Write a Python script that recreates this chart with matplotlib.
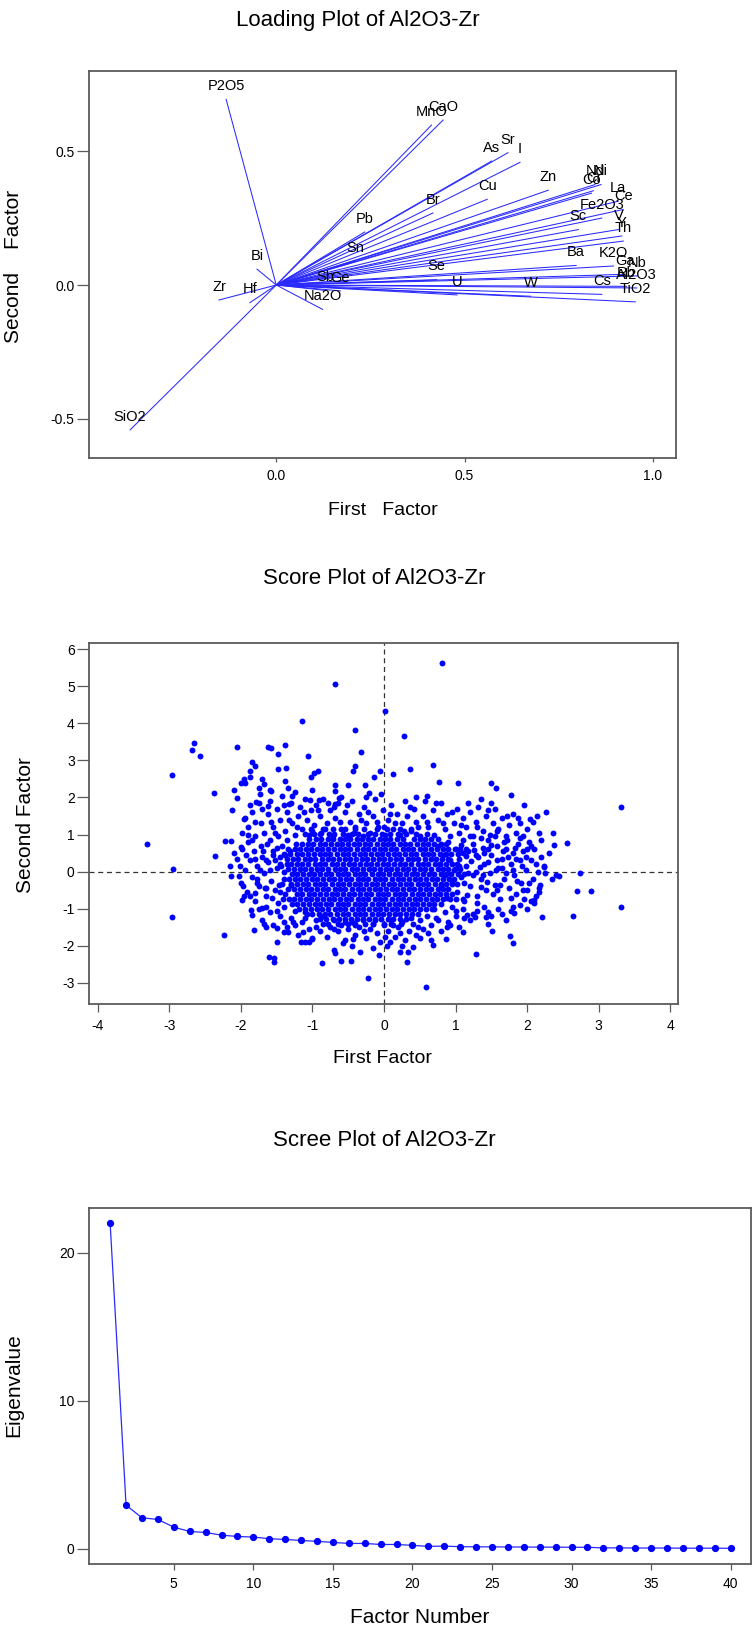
import numpy as np
import matplotlib
matplotlib.use("Agg")
import matplotlib.pyplot as plt

plt.rcParams['font.family'] = ['Liberation Sans', 'DejaVu Sans']
plt.rcParams['axes.unicode_minus'] = False

BLUE = '#0000ff'
FRAME = '#5a5a5a'

# ---------------- loading plot data (first / second factor loadings) -------
load_names = ['P2O5', 'MnO', 'CaO', 'As', 'Sr', 'I', 'Br', 'Cu', 'Zn', 'Pb',
              'Sn', 'Bi', 'Zr', 'Hf', 'SiO2', 'Na2O', 'Sb', 'Ge', 'Se', 'U',
              'W', 'Ba', 'K2O', 'Ga', 'Nb', 'Cs', 'Rb', 'Al2O3', 'TiO2', 'Nd',
              'Ni', 'Co', 'Cr', 'La', 'Ce', 'Fe2O3', 'Sc', 'V', 'Y', 'Th']
load_f1 = [-0.133, 0.412, 0.443, 0.572, 0.615, 0.647, 0.416, 0.560, 0.722, 0.235,
           0.211, -0.051, -0.152, -0.070, -0.388, 0.123, 0.130, 0.170, 0.426, 0.480,
           0.675, 0.796, 0.895, 0.926, 0.957, 0.864, 0.930, 0.957, 0.953, 0.846,
           0.862, 0.837, 0.842, 0.908, 0.921, 0.864, 0.802, 0.908, 0.917, 0.921]
load_f2 = [0.693, 0.597, 0.616, 0.463, 0.494, 0.458, 0.269, 0.320, 0.354, 0.198,
           0.090, 0.059, -0.056, -0.066, -0.541, -0.091, -0.020, -0.022, 0.020, -0.037,
           -0.042, 0.073, 0.071, 0.040, 0.034, -0.035, -0.005, -0.011, -0.063, 0.375,
           0.375, 0.343, 0.352, 0.313, 0.282, 0.250, 0.207, 0.207, 0.183, 0.164]

# ---------------- score plot data ------------------------------------------
score_outliers = [
    (-0.69, 5.07), (0.02, 4.33), (-1.14, 4.06), (-0.41, 3.81), (-2.65, 3.47),
    (-2.69, 3.29), (-2.57, 3.12), (-2.05, 3.37), (-1.62, 3.36), (-1.58, 3.33),
    (-1.38, 3.41), (-1.48, 3.17), (-1.06, 3.12), (-0.32, 3.22), (-2.97, 2.61),
    (-1.85, 2.95), (-1.81, 2.86), (-1.87, 2.70), (-1.48, 2.76), (-1.37, 2.80),
    (-1.02, 2.56), (-0.98, 2.65), (-0.92, 2.72), (-0.44, 2.70), (-0.40, 2.85),
    (-0.05, 2.72), (-0.14, 2.55), (-2.38, 2.11), (-2.10, 2.20), (-2.05, 1.99),
    (-2.00, 2.38), (-1.96, 2.50), (-1.88, 2.54), (-1.71, 2.51), (-1.68, 2.35),
    (-1.58, 2.16), (-1.73, 2.08), (-1.38, 2.43), (-1.34, 2.25), (-1.28, 2.04),
    (-1.00, 2.20), (-1.04, 1.93), (-0.68, 2.34), (-0.69, 2.16), (-0.63, 1.99),
    (-0.50, 2.33), (-0.27, 2.33), (-0.21, 2.11), (-0.04, 2.08), (-2.13, 1.66),
    (-1.96, 1.42), (-1.88, 1.79), (-1.79, 1.89), (-1.62, 1.77), (-1.33, 1.81),
    (-0.91, 1.93), (-0.79, 1.86), (-0.68, 1.82), (-3.32, 0.75), (-2.22, 0.83),
    (-2.14, 0.83), (-2.36, 0.43), (-1.98, 1.03), (-2.00, 0.66), (-2.16, 0.15),
    (-2.14, -0.13), (-2.03, -0.13), (-2.95, 0.08), (-2.96, -1.22), (-2.23, -1.71),
    (-1.82, -1.56), (-1.96, -0.67), (-1.98, -0.76), (-1.86, -1.03), (-1.84, -1.17),
    (-1.68, -1.41), (-1.65, -1.50), (-1.49, -1.91), (-1.61, -2.29), (-1.54, -2.43),
    (-1.54, -2.34), (-0.87, -2.47), (-0.69, -2.20), (-0.60, -2.40), (-0.46, -2.40),
    (-0.22, -2.86), (-0.33, -2.16), (-0.07, -2.25), (-0.57, -1.93), (-0.44, -1.82),
    (-1.16, -1.90), (-1.10, -1.90), (-1.00, -1.82), (-1.13, -1.62), (-1.40, -1.64),
    (-1.34, -1.62), (-1.27, -1.37), (-1.49, -1.53), (-1.70, -0.99), (-1.80, -0.58),
    (-1.77, -0.31), (-1.65, -0.45),
    (0.81, 5.63), (0.28, 3.66), (0.68, 2.88), (0.37, 2.76), (0.13, 2.62),
    (0.77, 2.41), (1.03, 2.38), (1.50, 2.38), (1.57, 2.26), (1.78, 2.07),
    (1.96, 1.79), (2.26, 1.62), (3.32, 1.73), (2.14, 1.50), (2.04, 1.42),
    (2.16, 1.03), (2.36, 1.05), (2.37, 0.72), (2.56, 0.78), (2.30, 0.49),
    (2.23, 0.13), (2.41, -0.09), (2.44, -0.13), (2.74, -0.03), (2.35, -0.21),
    (2.70, -0.52), (2.89, -0.52), (3.32, -0.94), (2.64, -1.19), (2.21, -1.21),
    (1.82, -1.12), (1.76, -1.73), (1.81, -1.93), (1.46, -1.41), (1.51, -1.59),
    (1.42, -1.21), (1.29, -2.23), (1.11, -1.64), (0.87, -1.81), (0.68, -1.98),
    (0.59, -3.12), (0.32, -2.44), (0.23, -2.17), (0.34, -2.16), (0.41, -2.02),
    (0.04, -2.00), (0.08, -1.91), (1.16, -1.17), (1.27, -1.21), (0.92, -1.44),
    (2.10, -0.76), (2.13, -0.67), (2.17, -0.45),
]

score_ring = [
    (-1.95, 1.45), (-1.9, 1.2), (-1.85, 1.6), (-1.8, 0.95), (-1.75, 1.85), (-1.72, 1.3),
    (-1.68, 1.05), (-1.62, 1.55), (-1.6, 1.9), (-1.55, 1.2), (-1.5, 1.7), (-1.48, 0.95),
    (-1.45, 1.4), (-1.42, 2.05), (-1.38, 1.1), (-1.35, 1.6), (-1.3, 1.85), (-1.28, 1.3),
    (-1.25, 0.98), (-1.2, 1.5), (-1.18, 1.75), (-1.15, 1.15), (-1.1, 1.95), (-1.08, 1.4),
    (-1.05, 1.0), (-1.02, 1.65), (-0.98, 1.25), (-0.95, 1.8), (-0.9, 1.5), (-0.88, 1.05),
    (-0.85, 1.95), (-0.8, 1.3), (-0.75, 1.65), (-0.72, 0.95), (-0.68, 1.45), (-0.65, 1.85),
    (-0.6, 1.15), (-0.55, 1.6), (-0.5, 1.0), (-0.48, 1.35), (-0.45, 1.9), (-0.4, 1.2),
    (-0.35, 1.55), (-0.3, 0.95), (-0.28, 1.75), (-0.25, 1.3), (-0.2, 1.05), (-0.15, 1.5),
    (-0.12, 1.95), (-0.08, 1.2), (-0.02, 1.65), (0.02, 0.98), (0.05, 1.4), (0.1, 1.8),
    (0.12, 1.15), (0.18, 1.55), (0.22, 1.0), (0.25, 1.3), (0.3, 1.9), (0.32, 1.5),
    (0.38, 1.1), (0.42, 1.7), (0.45, 1.35), (0.5, 0.95), (0.55, 1.5), (0.58, 1.9),
    (0.62, 1.2), (0.68, 1.65), (0.7, 1.0), (0.75, 1.4), (0.8, 1.85), (0.85, 1.15),
    (0.88, 1.55), (0.92, 0.95), (0.98, 1.3), (1.02, 1.7), (1.05, 1.05), (1.1, 1.45),
    (1.15, 1.2), (1.2, 1.6), (1.25, 0.95), (1.28, 1.35), (1.32, 1.75), (1.38, 1.1),
    (1.42, 1.5), (1.48, 1.0), (1.52, 1.3), (1.55, 1.7), (1.6, 1.15), (1.65, 1.45),
    (1.7, 0.95), (1.75, 1.25), (1.8, 1.55), (1.85, 1.05), (1.9, 1.3), (1.95, 0.95),
    (2.0, 1.15), (2.08, 1.35),
    (-1.9, 1.0), (-1.8, 1.35), (-1.7, 1.7), (-1.58, 1.35), (-1.52, 1.05), (-1.4, 1.8),
    (-1.33, 1.4), (-1.22, 1.2), (-1.12, 1.6), (-1.0, 1.1), (-0.92, 1.65), (-0.82, 1.15),
    (-0.7, 1.75), (-0.62, 1.35), (-0.52, 1.8), (-0.42, 1.05), (-0.32, 1.4), (-0.22, 1.6),
    (-0.1, 1.35), (0.0, 1.2), (0.08, 1.55), (0.15, 1.3), (0.28, 1.1), (0.36, 1.75),
    (0.48, 1.2), (0.6, 1.35), (0.72, 1.85), (0.82, 1.3), (0.95, 1.6), (1.08, 1.25),
    (1.18, 1.85), (1.3, 1.2), (1.45, 1.65), (1.58, 1.1), (1.72, 1.5), (1.88, 1.45),
    (-1.6, 2.2), (-0.6, 2.0), (0.45, 2.0), (0.6, 2.05), (1.35, 1.95), (1.5, 1.85),
    (-0.25, 2.0), (-1.25, 2.15), (-1.95, 2.4), (-1.75, 2.25),
    (-2.05, 0.35), (-2.0, -0.3), (-1.98, 0.6), (-1.95, 0.05), (-1.92, -0.55), (-1.9, 0.8),
    (-1.88, 0.3), (-1.85, -0.15), (-1.82, 0.55), (-1.8, -0.8), (-1.78, 0.15), (-1.75, -0.4),
    (-1.72, 0.7), (-1.7, 0.4), (-1.68, -0.05), (-1.65, -0.65), (-1.62, 0.25), (-1.6, 0.85),
    (-1.58, -0.25), (-1.55, 0.55), (-1.52, -0.5), (-1.5, 0.1), (-1.48, -0.85), (-1.45, 0.4),
    (-1.42, 0.7), (-1.4, -0.2), (-1.38, -0.6), (-1.35, 0.2), (-1.32, 0.55), (-1.3, -0.35),
    (-2.1, 0.5), (-2.02, 0.15), (-1.97, -0.4), (-1.93, 0.45), (-1.87, -0.65), (-1.84, 0.85),
    (-1.8, 0.35), (-1.77, -0.2), (-1.73, 0.05), (-1.69, 0.55), (-1.66, -0.45), (-1.63, 0.75),
    (-1.6, 0.05), (-1.57, -0.7), (-1.53, 0.3), (-1.5, 0.65), (-1.47, -0.35), (-1.44, 0.15),
    (-1.41, -0.75), (-1.38, 0.45), (-1.36, 0.85), (-1.4, 0.0), (-1.45, -0.55), (-1.55, 0.45),
    (-1.65, 0.3),
    (0.75, 0.7), (0.78, 0.2), (0.8, -0.4), (0.82, 0.45), (0.85, -0.1), (0.88, -0.7),
    (0.9, 0.8), (0.92, 0.3), (0.95, -0.3), (0.98, 0.05), (1.0, 0.6), (1.02, -0.55),
    (1.05, 0.35), (1.08, -0.15), (1.1, 0.85), (1.12, -0.8), (1.15, 0.15), (1.18, 0.55),
    (1.2, -0.4), (1.25, 0.75), (1.28, 0.0), (1.3, -0.65), (1.32, 0.4), (1.35, -0.2),
    (1.38, 0.65), (1.4, 0.2), (1.42, -0.5), (1.45, 0.85), (1.48, -0.05), (1.5, 0.45),
    (1.55, -0.35), (1.58, 0.7), (1.6, 0.1), (1.62, -0.75), (1.65, 0.35), (1.68, -0.2),
    (1.7, 0.6), (1.72, 0.85), (1.75, -0.45), (1.78, 0.2), (1.8, 0.5), (1.82, -0.1),
    (1.85, -0.6), (1.88, 0.75), (1.9, 0.3), (1.92, -0.3), (1.95, 0.55), (1.98, 0.05),
    (2.0, -0.5), (2.02, 0.8), (2.05, 0.3), (2.08, -0.2), (2.1, 0.6), (2.15, 0.0),
    (2.18, -0.35), (2.2, 0.4), (2.25, -0.05),
    (1.05, 0.15), (1.08, 0.72), (1.12, -0.3), (1.14, 0.42), (1.16, -0.62), (1.22, 0.28),
    (1.24, -0.1), (1.26, 0.58), (1.3, -0.85), (1.34, 0.12), (1.36, -0.42), (1.4, 0.5),
    (1.44, -0.28), (1.46, 0.25), (1.5, 0.72), (1.53, -0.6), (1.56, 0.05), (1.58, 0.3),
    (1.62, -0.35), (1.66, 0.55), (1.68, 0.8), (1.71, -0.05), (1.74, 0.4), (1.77, -0.7),
    (1.8, 0.05), (1.83, 0.65), (1.86, -0.25), (1.9, 0.9), (1.93, 0.15), (1.96, -0.75),
    (1.99, 0.4), (2.03, -0.3), (2.06, 0.7), (2.12, 0.2), (2.16, -0.55), (2.2, 0.85),
    (2.24, 0.15), (1.2, 0.95), (1.35, 0.9), (1.55, 0.95), (1.1, 0.5), (1.28, 0.45),
    (1.45, 0.6), (1.65, 0.1), (1.84, 0.35), (1.95, -0.5), (2.0, 0.6), (1.18, -0.05),
    (1.38, -0.1), (1.58, -0.5),
    (-1.75, -1.0), (-1.7, -1.3), (-1.6, -1.1), (-1.55, -1.45), (-1.45, -1.2), (-1.4, -0.95),
    (-1.35, -1.5), (-1.3, -1.25), (-1.25, -1.05), (-1.2, -1.7), (-1.15, -1.35), (-1.1, -1.1),
    (-1.05, -1.55), (-1.0, -1.8), (-0.95, -1.3), (-0.9, -1.6), (-0.85, -1.4), (-0.8, -1.75),
    (-0.75, -1.5), (-0.7, -1.3), (-0.65, -1.6), (-0.6, -1.45), (-0.55, -1.85), (-0.5, -1.55),
    (-0.45, -1.35), (-0.4, -1.7), (-0.35, -1.5), (-0.3, -1.3), (-0.25, -1.8), (-0.2, -1.55),
    (-0.15, -1.4), (-0.1, -1.65), (-0.05, -1.9), (0.0, -1.45), (0.05, -1.6), (0.1, -1.3),
    (0.15, -1.75), (0.2, -1.5), (0.25, -1.35), (0.3, -1.85), (0.35, -1.6), (0.4, -1.4),
    (0.45, -1.7), (0.5, -1.3), (0.55, -1.55), (0.6, -1.2), (0.65, -1.45), (0.7, -1.0),
    (0.75, -1.3), (0.8, -1.6), (0.85, -1.1), (0.9, -1.35), (0.95, -0.95), (1.0, -1.2),
    (1.05, -1.5), (1.1, -1.0), (1.2, -1.3), (1.3, -1.05), (1.4, -0.95), (1.5, -1.2),
    (1.6, -1.0), (1.7, -1.3), (1.8, -0.95), (1.9, -0.9), (2.0, -1.0), (2.1, -0.85),
    (-1.65, -0.95), (-1.5, -1.05), (-1.4, -1.35), (-1.25, -1.45), (-1.1, -1.25), (-0.95, -1.5),
    (-0.85, -1.2), (-0.7, -1.55), (-0.55, -1.35), (-0.4, -1.45), (-0.28, -1.6), (-0.12, -1.3),
    (0.02, -1.75), (0.12, -1.45), (0.22, -1.65), (0.38, -1.25), (0.48, -1.5), (0.62, -1.65),
    (0.72, -1.25), (0.88, -1.5), (1.0, -1.05), (1.12, -1.25), (1.25, -1.15), (1.45, -1.1),
    (1.65, -1.15), (1.78, -1.05), (2.05, -0.8), (0.5, -1.8), (-0.15, -2.05), (-0.45, -2.0),
    (-1.05, -1.9), (-0.7, -2.1), (0.25, -2.0), (0.65, -1.85),
]

# dense centre of the cloud, one row of first-factor values per second-factor level
core_rows = [
    (1.16, [-1.02, -0.85, -0.72, -0.55, -0.4, -0.28, -0.1, 0.04, 0.22, 0.38]),
    (1.02, [-1.1, -0.98, -0.9, -0.77, -0.7, -0.58, -0.45, -0.36, -0.22, -0.12, -0.03, 0.08,
            0.2, 0.31, 0.45, 0.6]),
    (0.88, [-1.05, -0.95, -0.88, -0.79, -0.72, -0.62, -0.55, -0.47, -0.38, -0.31,
            -0.22, -0.15, -0.06, 0.02, 0.09, 0.18, 0.27, 0.42, 0.51, 0.57, 0.66, 0.75]),
    (0.75, [-1.23, -1.14, -1.06, -0.99, -0.9, -0.83, -0.74, -0.66, -0.59, -0.5, -0.42,
            -0.35, -0.26, -0.19, -0.1, -0.02, 0.06, 0.13, 0.22, 0.3, 0.37, 0.46, 0.54, 0.61,
            0.7, 0.79, 0.86]),
    (0.62, [-1.34, -1.25, -1.18, -1.09, -1.02, -0.93, -0.86, -0.78, -0.7, -0.62, -0.54, -0.47,
            -0.38, -0.3, -0.23, -0.14, -0.06, 0.01, 0.1, 0.17, 0.26, 0.34, 0.41, 0.5, 0.58,
            0.65, 0.74, 0.82, 0.9, 0.99, 1.06, 1.15]),
    (0.48, [-1.4, -1.31, -1.22, -1.15, -1.06, -0.98, -0.9, -0.82, -0.75, -0.66, -0.58, -0.51,
            -0.42, -0.34, -0.27, -0.18, -0.1, -0.03, 0.06, 0.14, 0.21, 0.3, 0.38, 0.45, 0.54,
            0.62, 0.69, 0.78, 0.86, 0.94, 1.03]),
    (0.35, [-1.35, -1.27, -1.2, -1.11, -1.03, -0.96, -0.87, -0.79, -0.72, -0.63, -0.55, -0.48,
            -0.39, -0.31, -0.24, -0.15, -0.07, 0.0, 0.09, 0.17, 0.24, 0.33, 0.41, 0.48, 0.57,
            0.65, 0.72, 0.81, 0.89]),
    (0.21, [-1.45, -1.3, -1.21, -1.14, -1.06, -0.97, -0.9, -0.82, -0.73, -0.66, -0.58, -0.49,
            -0.42, -0.34, -0.25, -0.18, -0.1, -0.01, 0.06, 0.14, 0.23, 0.3, 0.38, 0.47, 0.54,
            0.62, 0.71, 0.78, 0.86, 0.95, 1.02]),
    (0.08, [-1.34, -1.26, -1.17, -1.1, -1.02, -0.93, -0.86, -0.78, -0.69, -0.62, -0.54, -0.45,
            -0.38, -0.3, -0.21, -0.14, -0.06, 0.03, 0.1, 0.18, 0.27, 0.34, 0.42, 0.51, 0.58,
            0.66, 0.75, 0.82, 0.9, 0.99, 1.06]),
    (-0.06, [-1.29, -1.22, -1.13, -1.05, -0.98, -0.89, -0.81, -0.74, -0.65, -0.57, -0.5, -0.41,
             -0.33, -0.26, -0.17, -0.09, -0.02, 0.07, 0.15, 0.22, 0.31, 0.39, 0.46, 0.55, 0.63,
             0.7, 0.79, 0.87, 0.94, 1.03, 1.12]),
    (-0.19, [-1.33, -1.25, -1.18, -1.09, -1.01, -0.94, -0.85, -0.77, -0.7, -0.61, -0.53, -0.46,
             -0.37, -0.29, -0.22, -0.13, -0.05, 0.02, 0.11, 0.19, 0.26, 0.35, 0.43, 0.5, 0.59,
             0.67, 0.74, 0.83, 0.91, 0.98]),
    (-0.33, [-1.42, -1.3, -1.21, -1.13, -1.06, -0.97, -0.89, -0.82, -0.73, -0.65, -0.58, -0.49,
             -0.41, -0.34, -0.25, -0.17, -0.1, -0.01, 0.07, 0.14, 0.23, 0.31, 0.38, 0.47, 0.55,
             0.62, 0.71, 0.79, 0.86, 0.95, 1.02]),
    (-0.46, [-1.34, -1.26, -1.17, -1.09, -1.02, -0.93, -0.85, -0.78, -0.69, -0.61, -0.54, -0.45,
             -0.37, -0.3, -0.21, -0.13, -0.06, 0.03, 0.11, 0.18, 0.27, 0.35, 0.42, 0.51, 0.59,
             0.66, 0.75, 0.83, 0.9]),
    (-0.6, [-1.22, -1.14, -1.05, -0.98, -0.9, -0.81, -0.73, -0.66, -0.57, -0.49, -0.42,
            -0.33, -0.25, -0.18, -0.09, -0.01, 0.06, 0.15, 0.23, 0.3, 0.39, 0.47, 0.54, 0.63,
            0.71, 0.78, 0.87, 0.95]),
    (-0.73, [-1.33, -1.26, -1.18, -1.09, -1.02, -0.94, -0.85, -0.77, -0.7, -0.61, -0.53, -0.46,
             -0.37, -0.29, -0.22, -0.13, -0.05, 0.02, 0.11, 0.19, 0.26, 0.35, 0.43, 0.5, 0.59,
             0.67, 0.74, 0.83, 0.92, 1.0, 1.1]),
    (-0.87, [-1.28, -1.21, -1.13, -1.05, -0.97, -0.89, -0.81, -0.74, -0.65, -0.57, -0.5, -0.41,
             -0.33, -0.26, -0.17, -0.09, -0.02, 0.07, 0.15, 0.22, 0.31, 0.39, 0.46, 0.55, 0.63,
             0.7, 0.79]),
    (-1.0, [-1.19, -1.1, -1.02, -0.93, -0.86, -0.78, -0.69, -0.61, -0.54, -0.45, -0.37, -0.3,
            -0.21, -0.13, -0.06, 0.03, 0.11, 0.18, 0.27, 0.35, 0.42, 0.51, 0.59, 0.67]),
    (-1.14, [-1.08, -1.0, -0.91, -0.83, -0.75, -0.66, -0.58, -0.5, -0.41, -0.33, -0.26, -0.17,
             -0.09, -0.02, 0.07, 0.15, 0.22, 0.31, 0.39, 0.47]),
    (-1.27, [-0.9, -0.81, -0.72, -0.63, -0.55, -0.46, -0.38, -0.29, -0.21, -0.12, -0.04, 0.05,
             0.13, 0.22, 0.31]),
    (-1.4, [-0.78, -0.64, -0.5, -0.41, -0.27, -0.15, 0.0, 0.1, 0.24]),
]

# ---------------- scree plot data -----------------------------------------
factor_no = list(range(1, 41))
eigenvalues = [21.98, 2.95, 2.09, 1.98, 1.46, 1.17, 1.10, 0.92, 0.83, 0.79,
               0.68, 0.63, 0.56, 0.50, 0.43, 0.36, 0.36, 0.29, 0.29, 0.23,
               0.16, 0.18, 0.14, 0.13, 0.13, 0.12, 0.12, 0.11, 0.11, 0.10,
               0.10, 0.06, 0.06, 0.05, 0.05, 0.05, 0.04, 0.04, 0.04, 0.03]


def style_axes(ax, xlen=4, ylen=8.5):
    for sp in ax.spines.values():
        sp.set_color(FRAME)
        sp.set_linewidth(1.3)
    ax.tick_params(axis='y', length=ylen, width=0.9, color=FRAME, labelsize=10, pad=2)
    ax.tick_params(axis='x', length=xlen, width=0.9, color=FRAME, labelsize=10, pad=5)


fig = plt.figure(figsize=(7.53, 16.30), dpi=100)

# loading plot
ax1 = fig.add_axes([0.1182, 0.7190, 0.7795, 0.2376])
for name, fx, fy in zip(load_names, load_f1, load_f2):
    ax1.plot([0, fx], [0, fy], color='#2a2aff', lw=0.75)
    ax1.annotate(name, (fx, fy), xytext=(0, 9.5), textcoords='offset points',
                 ha='center', va='center', fontsize=10.5)
ax1.set_xlim(-0.497, 1.061)
ax1.set_ylim(-0.646, 0.80)
ax1.set_xticks([0.0, 0.5, 1.0])
ax1.set_yticks([-0.5, 0.0, 0.5])
ax1.set_xticklabels(['0.0', '0.5', '1.0'])
ax1.set_yticklabels(['-0.5', '0.0', '0.5'])
style_axes(ax1, xlen=3)

fig.text(0.475, 0.9877, 'Loading Plot of Al2O3-Zr', ha='center', va='center', fontsize=16)
fig.text(0.5086, 0.6871, 'First   Factor', ha='center', va='center', fontsize=14)
fig.text(0.0173, 0.8368, 'Second    Factor', ha='center', va='center', fontsize=15,
         rotation=90)

# score plot
ax2 = fig.add_axes([0.1186, 0.3840, 0.7818, 0.2217])
pts = list(score_outliers) + list(score_ring)
for yv, xs in core_rows:
    pts += [(xv, yv) for xv in xs]
pts = np.array(pts)
ax2.scatter(pts[:, 0], pts[:, 1], s=18, color=BLUE, marker='o', linewidths=0, zorder=3)
ax2.axhline(0, color='#333333', ls=(0, (4, 3)), lw=0.9, zorder=2)
ax2.axvline(0, color='#333333', ls=(0, (4, 3)), lw=0.9, zorder=2)
ax2.set_xlim(-4.12, 4.11)
ax2.set_ylim(-3.57, 6.17)
ax2.set_xticks(range(-4, 5))
ax2.set_yticks(range(-3, 7))
style_axes(ax2, xlen=6)

fig.text(0.4967, 0.6448, 'Score Plot of Al2O3-Zr', ha='center', va='center', fontsize=16)
fig.text(0.5086, 0.3509, 'First Factor', ha='center', va='center', fontsize=14)
fig.text(0.0345, 0.4939, 'Second Factor', ha='center', va='center', fontsize=15,
         rotation=90)

# scree plot
ax3 = fig.add_axes([0.1186, 0.0403, 0.8787, 0.2188])
ax3.plot(factor_no, eigenvalues, color='#2a2aff', lw=0.9, marker='o', ms=4.2,
         mfc=BLUE, mec=BLUE)
ax3.set_xlim(-0.31, 41.28)
ax3.set_ylim(-1.05, 23.04)
ax3.set_xticks([5, 10, 15, 20, 25, 30, 35, 40])
ax3.set_yticks([0, 10, 20])
style_axes(ax3, xlen=4)

fig.text(0.511, 0.3000, 'Scree Plot of Al2O3-Zr', ha='center', va='center', fontsize=16)
fig.text(0.558, 0.0074, 'Factor Number', ha='center', va='center', fontsize=15)
fig.text(0.0178, 0.1503, 'Eigenvalue', ha='center', va='center', fontsize=15,
         rotation=90)

fig.savefig('out.png', dpi=100)
